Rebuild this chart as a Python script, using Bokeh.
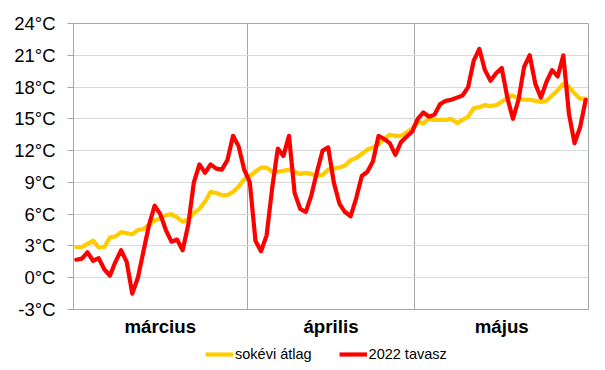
from bokeh.plotting import figure
from bokeh.layouts import column
from bokeh.models import Range1d, FixedTicker, PrintfTickFormatter, Legend, LegendItem
from bokeh.embed import file_html
from bokeh.resources import INLINE

# --- data -------------------------------------------------------------
months = ["március", "április", "május"]
month_days = [31, 30, 31]
y_ticks = [-3, 0, 3, 6, 9, 12, 15, 18, 21, 24]

avg_temp = [2.9, 2.9, 3.2, 3.5, 2.85, 2.9, 3.8, 3.9, 4.3, 4.2,
            4.1, 4.5, 4.6, 5.0, 5.4, 5.6, 5.9, 6.0, 5.7, 5.3,
            5.5, 6.1, 6.5, 7.2, 8.1, 8.0, 7.8, 7.8, 8.1, 8.6,
            9.3, 9.6, 10.0, 10.4, 10.4, 10.0, 10.0, 10.1, 10.2, 10.0,
            9.8, 9.9, 9.8, 9.6, 9.7, 10.2, 10.3, 10.4, 10.6, 11.1,
            11.3, 11.7, 12.1, 12.3, 12.6, 13.1, 13.5, 13.4, 13.4, 13.7,
            14.1, 14.7, 14.6, 15.0, 14.9, 14.9, 14.9, 15.0, 14.6, 14.9,
            15.2, 16.0, 16.1, 16.3, 16.2, 16.3, 16.6, 17.0, 17.2, 16.9,
            16.8, 16.8, 16.7, 16.6, 16.7, 17.2, 17.7, 18.3, 18.0, 17.4,
            16.9, 16.9]

temp_2022 = [1.7, 1.8, 2.4, 1.6, 1.85, 0.8, 0.2, 1.5, 2.6, 1.5,
             -1.5, 0.0, 2.5, 5.0, 6.8, 6.0, 4.5, 3.4, 3.6, 2.6,
             5.0, 9.0, 10.7, 9.9, 10.7, 10.3, 10.2, 11.1, 13.4, 12.4,
             10.2, 9.0, 3.5, 2.5, 4.0, 8.5, 12.2, 11.5, 13.4, 8.0,
             6.5, 6.2, 7.8, 10.0, 12.0, 12.3, 9.0, 7.0, 6.2, 5.8,
             7.5, 9.6, 10.0, 11.0, 13.4, 13.1, 12.7, 11.6, 12.8, 13.3,
             13.8, 15.0, 15.6, 15.2, 15.4, 16.4, 16.7, 16.8, 17.0, 17.2,
             18.0, 20.5, 21.6, 19.6, 18.6, 19.3, 19.8, 17.0, 15.0, 16.8,
             19.9, 21.0, 18.3, 17.0, 18.5, 19.6, 19.0, 21.0, 15.5, 12.7,
             14.2, 16.8]

series_names = ["sokévi átlag", "2022 tavasz"]
series_colors = ["#FFCC00", "#FF0000"]

# --- derived positions --------------------------------------------------
n_days = sum(month_days)
x = [i + 0.5 for i in range(len(avg_temp))]
bounds = []
acc = 0
centers = []
for d in month_days:
    centers.append(acc + d / 2)
    acc += d
    bounds.append(acc)

FONT = "Liberation Sans"
LW = 4.2

p = figure(width=605, height=341, output_backend="svg", toolbar_location=None,
           x_range=Range1d(0, n_days), y_range=Range1d(y_ticks[0], y_ticks[-1]),
           min_border_left=73, min_border_right=17, min_border_top=23,
           min_border_bottom=32)

p.background_fill_color = "white"
p.border_fill_color = "white"
p.outline_line_color = "#A6A6A6"

# y axis
p.yaxis.ticker = FixedTicker(ticks=y_ticks)
p.yaxis.formatter = PrintfTickFormatter(format="%d°C")
p.yaxis.axis_line_color = "#A6A6A6"
p.yaxis.major_tick_line_color = "#A6A6A6"
p.yaxis.major_tick_out = 6
p.yaxis.major_tick_in = 0
p.yaxis.minor_tick_line_color = None
p.yaxis.major_label_text_font = FONT
p.yaxis.major_label_text_font_size = "18.5px"
p.yaxis.major_label_text_color = "black"
p.yaxis.major_label_standoff = 12

# x axis: month names at month centers
p.xaxis.ticker = FixedTicker(ticks=centers)
p.xaxis.major_label_overrides = {c: m for c, m in zip(centers, months)}
p.xaxis.axis_line_color = "#A6A6A6"
p.xaxis.major_tick_line_color = None
p.xaxis.major_tick_out = 0
p.xaxis.major_tick_in = 0
p.xaxis.minor_tick_line_color = None
p.xaxis.minor_tick_out = 0
p.xaxis.major_label_text_font = FONT
p.xaxis.major_label_text_font_style = "bold"
p.xaxis.major_label_text_font_size = "18.7px"
p.xaxis.major_label_text_color = "black"
p.xaxis.major_label_standoff = 6

# grids
p.xgrid.ticker = FixedTicker(ticks=bounds[:-1])
p.xgrid.grid_line_color = "#A6A6A6"
p.ygrid.ticker = FixedTicker(ticks=y_ticks)
p.ygrid.grid_line_color = "#D9D9D9"

p.line(x, avg_temp, line_color=series_colors[0], line_width=LW,
       line_join="round", line_cap="round")
p.line(x, temp_2022, line_color=series_colors[1], line_width=LW,
       line_join="round", line_cap="round")

# --- legend strip below the chart ------------------------------------------
# same series drawn into a strip whose y-range keeps them out of view,
# so only their legend entries are seen
lg = figure(width=605, height=29, output_backend="svg", toolbar_location=None,
            x_axis_location=None, y_axis_location=None,
            x_range=Range1d(0, n_days), y_range=Range1d(-100, -99),
            min_border_left=0, min_border_right=0, min_border_top=0,
            min_border_bottom=0)
lg.outline_line_color = None
lg.grid.visible = False
items = []
for name, col, vals in zip(series_names, series_colors, [avg_temp, temp_2022]):
    r = lg.line(x, vals, line_color=col, line_width=LW)
    items.append(LegendItem(label=name, renderers=[r]))

legend = Legend(items=items, orientation="horizontal", location=(132, 6),
                border_line_color=None, background_fill_alpha=0,
                label_text_font=FONT, label_text_font_size="14.5px",
                label_text_color="black",
                glyph_width=28, glyph_height=20, label_height=20,
                label_standoff=2, spacing=27, padding=0, margin=0)
lg.add_layout(legend)

layout = column(p, lg, spacing=0)
open("out.html", "w").write(file_html(layout, INLINE))
